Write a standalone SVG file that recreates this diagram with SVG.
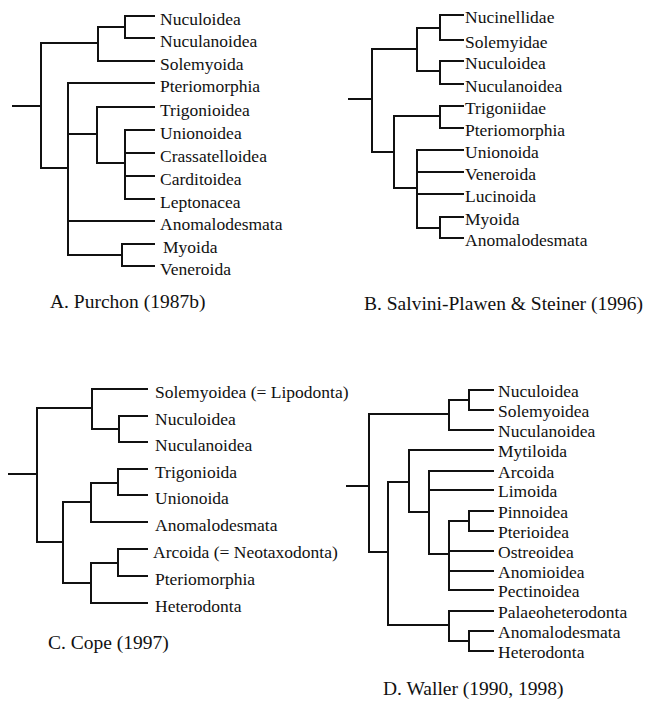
<svg xmlns="http://www.w3.org/2000/svg" width="654" height="704" viewBox="0 0 654 704">
<style>
.c{fill:none;stroke:#111;stroke-width:2;stroke-linecap:square}
text{font-family:'Liberation Serif','Times New Roman','DejaVu Serif',serif;fill:#111}
.t{font-size:17.5px}
.cap{font-size:19.5px}
</style>
<rect width="654" height="704" fill="#fff"/>
<g id="connectors">
<path class="c" d="M13,106H41M41,43V168M41,43H98M98,27V61M98,27H125M125,16V38M125,16H154M125,38H154M98,61H154M41,168H68M68,83V255M68,83H154M68,134H97M97,107V163M97,107H154M97,163H125M125,130V199M125,130H154M125,153H154M125,176H154M125,199H154M68,221H154M68,255H122M122,244V266M122,244H154M122,266H154"/>
<path class="c" d="M349,99H372M372,49V152M372,49H417M417,28V71M417,28H440M440,15V40M440,15H463M440,40H463M417,71H440M440,61V84M440,61H463M440,84H463M372,152H394M394,116V188M394,116H440M440,106V128M440,106H463M440,128H463M394,188H417M417,150V228M417,150H463M417,172H463M417,194H463M417,228H440M440,217V238M440,217H463M440,238H463"/>
<path class="c" d="M9,474H37M37,408V542M37,408H92M92,389V429M92,389H147M92,429H119M119,416V442M119,416H147M119,442H147M37,542H63M63,502V583M63,502H91M91,483V522M91,483H118M118,469V495M118,469H147M118,495H147M91,522H147M63,583H91M91,563V603M91,563H118M118,549V576M118,549H147M118,576H147M91,603H147"/>
<path class="c" d="M347,486H369M369,414V552M369,414H449M449,400V430M449,400H469M469,390V410M469,390H493M469,410H493M449,430H493M369,552H388M388,482V625M388,482H409M409,450V512M409,450H493M409,512H429M429,471V554M429,471H493M429,490H493M429,554H449M449,521V590M449,521H469M469,511V531M469,511H493M469,531H493M449,551H493M449,571H493M449,590H493M388,625H449M449,611V641M449,611H493M449,641H469M469,631V651M469,631H493M469,651H493"/>
</g>
<g id="panelA" font-family="Liberation Serif, serif">
<text class="t" x="160" y="24.5">Nuculoidea</text>
<text class="t" x="160" y="46.5">Nuculanoidea</text>
<text class="t" x="160" y="69.5">Solemyoida</text>
<text class="t" x="160" y="91.5">Pteriomorphia</text>
<text class="t" x="160" y="115.5">Trigonioidea</text>
<text class="t" x="160" y="138.5">Unionoidea</text>
<text class="t" x="160" y="161.5">Crassatelloidea</text>
<text class="t" x="160" y="184.5">Carditoidea</text>
<text class="t" x="160" y="207.5">Leptonacea</text>
<text class="t" x="160" y="229.5">Anomalodesmata</text>
<text class="t" x="163" y="252.5">Myoida</text>
<text class="t" x="160" y="274.5">Veneroida</text>
<text class="cap" x="50" y="308">A. Purchon (1987b)</text>
</g>
<g id="panelB" font-family="Liberation Serif, serif">
<text class="t" x="465" y="23">Nucinellidae</text>
<text class="t" x="465" y="48">Solemyidae</text>
<text class="t" x="465" y="69">Nuculoidea</text>
<text class="t" x="465" y="92">Nuculanoidea</text>
<text class="t" x="465" y="114">Trigoniidae</text>
<text class="t" x="465" y="136">Pteriomorphia</text>
<text class="t" x="465" y="158">Unionoida</text>
<text class="t" x="465" y="180">Veneroida</text>
<text class="t" x="465" y="202">Lucinoida</text>
<text class="t" x="465" y="225">Myoida</text>
<text class="t" x="465" y="246">Anomalodesmata</text>
<text class="cap" x="364" y="310">B. Salvini-Plawen &amp; Steiner (1996)</text>
</g>
<g id="panelC" font-family="Liberation Serif, serif">
<text class="t" x="155" y="397.5">Solemyoidea (= Lipodonta)</text>
<text class="t" x="155" y="424.5">Nuculoidea</text>
<text class="t" x="155" y="450.5">Nuculanoidea</text>
<text class="t" x="155" y="477.5">Trigonioida</text>
<text class="t" x="155" y="503.5">Unionoida</text>
<text class="t" x="155" y="530.5">Anomalodesmata</text>
<text class="t" x="153" y="557.5">Arcoida (= Neotaxodonta)</text>
<text class="t" x="155" y="584.5">Pteriomorphia</text>
<text class="t" x="155" y="611.5">Heterodonta</text>
<text class="cap" x="48" y="649">C. Cope (1997)</text>
</g>
<g id="panelD" font-family="Liberation Serif, serif">
<text class="t" x="498" y="397">Nuculoidea</text>
<text class="t" x="498" y="417">Solemyoidea</text>
<text class="t" x="498" y="437">Nuculanoidea</text>
<text class="t" x="498" y="457">Mytiloida</text>
<text class="t" x="498" y="478">Arcoida</text>
<text class="t" x="498" y="497">Limoida</text>
<text class="t" x="498" y="518">Pinnoidea</text>
<text class="t" x="498" y="538">Pterioidea</text>
<text class="t" x="498" y="558">Ostreoidea</text>
<text class="t" x="498" y="578">Anomioidea</text>
<text class="t" x="498" y="597">Pectinoidea</text>
<text class="t" x="498" y="618">Palaeoheterodonta</text>
<text class="t" x="498" y="638">Anomalodesmata</text>
<text class="t" x="498" y="658">Heterodonta</text>
<text class="cap" x="383" y="695">D. Waller (1990, 1998)</text>
</g>
</svg>
